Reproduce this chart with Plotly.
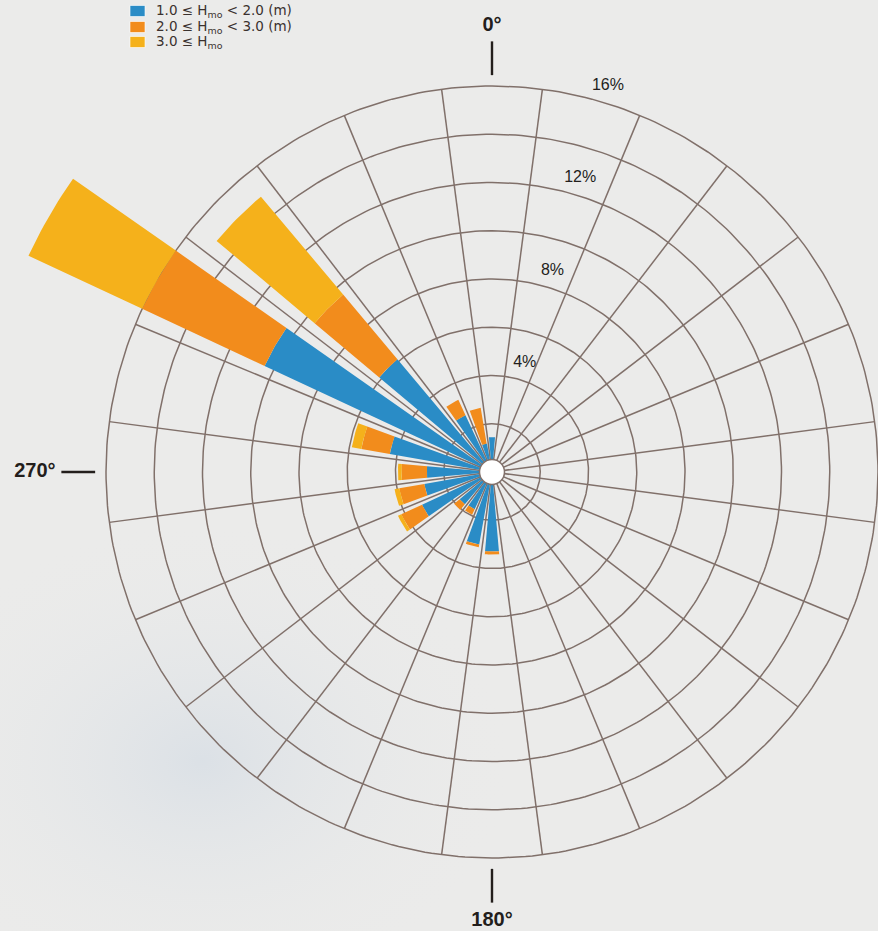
import numpy as np
import plotly.graph_objects as go

# Wave rose: percentage of occurrence per 15-degree direction bin, by wave height class
directions = [180, 195, 210, 225, 240, 255, 270, 285, 300, 315, 330, 345, 0]
pct_1_2m = [3.30, 3.05, 1.70, 1.75, 3.20, 2.85, 2.70, 4.30, 10.4, 6.1, 2.6, 1.2, 1.45]
pct_2_3m = [0.12, 0.12, 0.25, 0.30, 0.95, 1.05, 1.05, 1.20, 5.6, 3.5, 0.7, 1.5, 0.0]
pct_3m_up = [0.0, 0.0, 0.0, 0.0, 0.15, 0.20, 0.15, 0.40, 5.2, 5.3, 0.0, 0.0, 0.0]

class_names = [
    "1.0 ≤ H<sub>mo</sub> &lt; 2.0 (m)",
    "2.0 ≤ H<sub>mo</sub> &lt; 3.0 (m)",
    "3.0 ≤ H<sub>mo</sub>",
]
class_colors = ["#2a8cc6", "#f28c1c", "#f5b11b"]

ring_values = [2, 4, 6, 8, 10, 12, 14, 16]
ring_labels = ["4%", "8%", "12%", "16%"]
ring_label_values = [4, 8, 12, 16]
spoke_angles = [7.5 + 15 * i for i in range(24)]

compass_angles = [0, 270, 180]
compass_labels = ["0°", "270°", "180°"]

# ---- styling / geometry constants ------------------------------------------
GRID = "#80706a"
INK = "#231e1c"
BG = "#ebebea"
FONT = "Liberation Sans, Arial, Helvetica"
W, H = 878, 931
CX, CY = 492, 472          # pixel position of the rose centre
PX_PER_PCT = 386 / 16      # outer (16 %) ring radius in pixels
BAR_WIDTH = 10             # degrees
R_MAX = 16


def xy(r, bearing):
    """Compass bearing (deg, clockwise from north) + radius -> x, y."""
    b = np.radians(bearing)
    return r * np.sin(b), r * np.cos(b)


def wedge(bearing, r0, r1, width=BAR_WIDTH, n=14):
    t = np.linspace(bearing - width / 2, bearing + width / 2, n)
    xo, yo = xy(r1, t)
    xi, yi = xy(r0, t[::-1])
    xs = np.concatenate([xo, xi, xo[:1]])
    ys = np.concatenate([yo, yi, yo[:1]])
    return list(xs) + [None], list(ys) + [None]


fig = go.Figure()

# ---- faint bluish haze in the lower left of the paper ----------------------
t = np.linspace(0, 2 * np.pi, 73)
fig.add_trace(go.Scatter(
    x=-12 + 13 * np.cos(t), y=-12 + 10 * np.sin(t), mode="lines", line=dict(width=0),
    fill="toself", hoverinfo="skip", showlegend=False,
    fillgradient=dict(type="radial", colorscale=[[0, "rgba(200,212,225,0.45)"],
                                                 [1, "rgba(235,235,234,0)"]]),
))

# ---- grid: rings and spokes -------------------------------------------------
circ = np.linspace(0, 360, 361)
gx, gy = [], []
for rv in ring_values:
    x, y = xy(rv, circ)
    gx += list(x) + [None]
    gy += list(y) + [None]
for a in spoke_angles:
    x, y = xy(np.array([0, R_MAX]), a)
    gx += list(x) + [None]
    gy += list(y) + [None]
fig.add_trace(go.Scatter(x=gx, y=gy, mode="lines", line=dict(color=GRID, width=1.5),
                         hoverinfo="skip", showlegend=False))

# ---- stacked wedges ---------------------------------------------------------
base = np.zeros(len(directions))
for vals, name, color in zip([pct_1_2m, pct_2_3m, pct_3m_up], class_names, class_colors):
    bx, by = [], []
    for d, r0, v in zip(directions, base, vals):
        if v <= 0:
            continue
        x, y = wedge(d, r0, r0 + v)
        bx += x
        by += y
    fig.add_trace(go.Scatter(x=bx, y=by, mode="lines", fill="toself", fillcolor=color,
                             line=dict(width=0, color=color), name=name,
                             hoverinfo="skip", showlegend=False))
    base = base + np.array(vals)

# ---- white hub --------------------------------------------------------------
fig.add_trace(go.Scatter(x=[0], y=[0], mode="markers", showlegend=False, hoverinfo="skip",
                         marker=dict(size=25, color="white", line=dict(color=GRID, width=1.5))))

# ---- ring labels ------------------------------------------------------------
lx, ly = xy(np.array(ring_label_values) + 0.72, 16.7)
fig.add_trace(go.Scatter(x=lx, y=ly, mode="text", text=ring_labels, showlegend=False,
                         hoverinfo="skip",
                         textfont=dict(family=FONT, size=16, color=INK)))

# ---- compass ticks and labels ----------------------------------------------
tx, ty = [], []
for a in compass_angles:
    x, y = xy(np.array([16.45, 17.85]), a)
    tx += list(x) + [None]
    ty += list(y) + [None]
fig.add_trace(go.Scatter(x=tx, y=ty, mode="lines", line=dict(color=INK, width=2.4),
                         hoverinfo="skip", showlegend=False))
label_r = {0: 18.5, 270: 18.95, 180: 18.6}
cx_, cy_ = xy(np.array([label_r[a] for a in compass_angles]), np.array(compass_angles))
fig.add_trace(go.Scatter(x=cx_, y=cy_, mode="text", text=compass_labels, showlegend=False,
                         hoverinfo="skip",
                         textfont=dict(family=FONT, size=20, color=INK, weight="bold")))

# ---- legend (drawn by hand to match the compact original) -------------------
shapes, annotations = [], []
row_y = [11, 27, 42]
for name, color, yy in zip(class_names, class_colors, row_y):
    shapes.append(dict(type="rect", xref="paper", yref="paper",
                       x0=130 / W, x1=145 / W, y0=1 - (yy + 5.5) / H, y1=1 - (yy - 5.5) / H,
                       fillcolor=color, line=dict(color="rgba(255,255,255,0.6)", width=1)))
    annotations.append(dict(xref="paper", yref="paper", x=154 / W, y=1 - yy / H,
                            xanchor="left", yanchor="middle", showarrow=False, text=name,
                            font=dict(family="DejaVu Sans", size=13.5, color="#3a312e")))

x0 = -CX / PX_PER_PCT
x1 = (W - CX) / PX_PER_PCT
y1 = CY / PX_PER_PCT
y0 = -(H - CY) / PX_PER_PCT

fig.update_layout(
    width=W,
    height=H,
    margin=dict(l=0, r=0, t=0, b=0),
    paper_bgcolor=BG,
    plot_bgcolor=BG,
    showlegend=False,
    xaxis=dict(range=[x0, x1], visible=False, fixedrange=True),
    yaxis=dict(range=[y0, y1], visible=False, fixedrange=True),
    shapes=shapes,
    annotations=annotations,
)

fig.write_html("out.html", config={"displayModeBar": False},
               post_script="document.body.style.margin='0';")
